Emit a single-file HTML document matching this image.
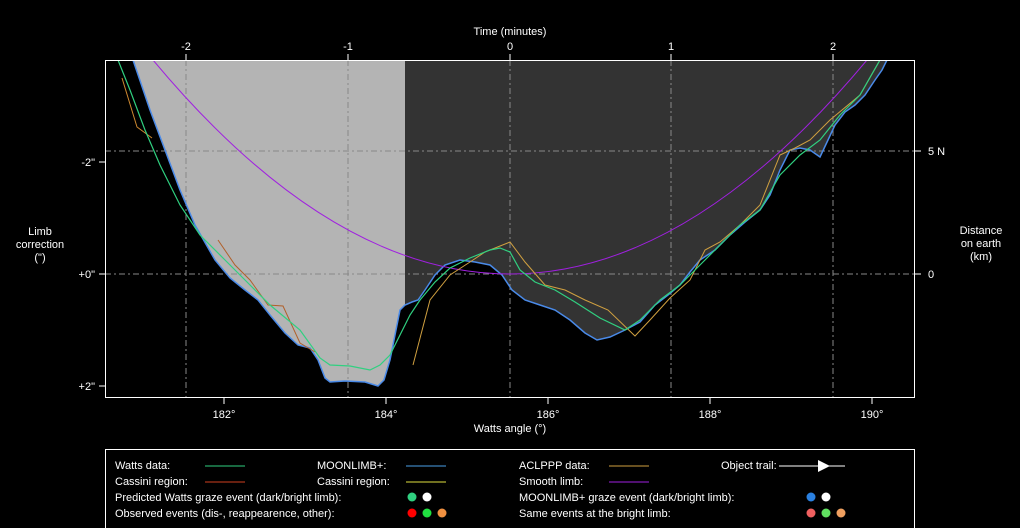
<!DOCTYPE html>
<html><head><meta charset="utf-8"><style>
html,body{margin:0;padding:0;background:#000;}
svg{display:block;font-family:"Liberation Sans",sans-serif;}
text{fill:#fff;font-size:11px;}
</style></head><body>
<svg width="1020" height="528" viewBox="0 0 1020 528" xmlns="http://www.w3.org/2000/svg">
<defs><clipPath id="c"><rect x="105" y="60" width="810" height="338"/></clipPath></defs>
<rect width="1020" height="528" fill="#000"/>
<g clip-path="url(#c)">
<rect x="105" y="60" width="300" height="338" fill="#b4b4b4"/>
<rect x="405" y="60" width="510" height="338" fill="#333"/>
<path id="limb" d="M133,60 L150,110 165,150 180,190 195,225 215,260 230,278 245,290 258,300 270,315 285,333 298,345 310,348 318,360 325,378 330,382 345,381 365,382 378,386 384,380 390,360 395,335 400,310 405,305 412,302 418,300 425,290 435,275 445,265 460,260 475,262 490,265 502,275 512,290 525,300 540,305 555,310 570,320 585,333 597,340 610,337 625,330 640,322 655,305 668,295 680,285 690,272 700,260 715,250 730,235 745,222 760,210 770,195 780,170 790,150 800,148 810,150 820,157 828,140 835,125 845,112 855,105 865,95 875,80 882,70 887,60 L915,60 915,400 105,400 105,60 Z" fill="#000"/>
<g stroke-width="1" fill="none" stroke-dasharray="6,3,2,3">
<line x1="186" y1="60" x2="186" y2="398" stroke="#888"/>
<line x1="348" y1="60" x2="348" y2="398" stroke="#888"/>
<line x1="510" y1="60" x2="510" y2="398" stroke="#888"/>
<line x1="671" y1="60" x2="671" y2="398" stroke="#888"/>
<line x1="833" y1="60" x2="833" y2="398" stroke="#888"/>
<line x1="105" y1="151" x2="915" y2="151" stroke="#888"/>
<line x1="105" y1="274" x2="915" y2="274" stroke="#888"/>
</g>
<polyline fill="none" stroke="#4a8ae8" stroke-width="1.5" points="133,60 150,110 165,150 180,190 195,225 215,260 230,278 245,290 258,300 270,315 285,333 298,345 310,348 318,360 325,378 330,382 345,381 365,382 378,386 384,380 390,360 395,335 400,310 405,305 412,302 418,300 425,290 435,275 445,265 460,260 475,262 490,265 502,275 512,290 525,300 540,305 555,310 570,320 585,333 597,340 610,337 625,330 640,322 655,305 668,295 680,285 690,272 700,260 715,250 730,235 745,222 760,210 770,195 780,170 790,150 800,148 810,150 820,157 828,140 835,125 845,112 855,105 865,95 875,80 882,70 887,60"/>
<path fill="none" stroke="#a020e0" stroke-width="1" d="M153,60 Q510,488 867,60"/>
<polyline fill="none" stroke="#d08a30" stroke-width="1" points="122,78 137,127 152,138"/>
<polyline fill="none" stroke="#b0602a" stroke-width="1" points="218,240 235,265 250,280 268,305 283,306 300,343 315,352"/>
<polyline fill="none" stroke="#d0a040" stroke-width="1" points="413,365 430,300 450,275 470,262 485,252 510,242 525,262 545,285 565,290 585,300 608,310 635,336 650,320 670,298 690,280 705,250 720,242 740,225 760,205 780,155 795,148 810,140 830,120 860,95 880,60"/>
<polyline fill="none" stroke="#30d080" stroke-width="1.2" points="118,60 130,90 145,130 160,165 180,205 200,235 225,260 250,285 270,305 300,330 320,358 330,365 350,366 370,370 380,365 390,355 400,335 410,315 420,300 435,282 450,268 470,258 490,250 500,248 510,252 520,270 535,282 555,290 575,302 600,318 625,330 640,320 660,300 680,285 700,265 720,245 740,225 760,210 780,175 800,155 820,140 840,115 860,95 880,60"/>
</g>
<rect x="105.5" y="60.5" width="809" height="337" fill="none" stroke="#fff"/>
<g stroke="#fff">
<line x1="186" y1="54" x2="186" y2="60"/><line x1="348" y1="54" x2="348" y2="60"/><line x1="510" y1="54" x2="510" y2="60"/><line x1="671" y1="54" x2="671" y2="60"/><line x1="833" y1="54" x2="833" y2="60"/>
<line x1="224" y1="398" x2="224" y2="404"/><line x1="386" y1="398" x2="386" y2="404"/><line x1="548" y1="398" x2="548" y2="404"/><line x1="710" y1="398" x2="710" y2="404"/><line x1="872" y1="398" x2="872" y2="404"/>
<line x1="99" y1="162" x2="105" y2="162"/><line x1="99" y1="274" x2="105" y2="274"/><line x1="99" y1="386" x2="105" y2="386"/>
<line x1="915" y1="151" x2="921" y2="151"/><line x1="915" y1="274" x2="921" y2="274"/>
</g>
<g text-anchor="middle">
<text x="510" y="35">Time (minutes)</text>
<text x="186" y="50">-2</text><text x="348" y="50">-1</text><text x="510" y="50">0</text><text x="671" y="50">1</text><text x="833" y="50">2</text>
<text x="224" y="418">182°</text><text x="386" y="418">184°</text><text x="548" y="418">186°</text><text x="710" y="418">188°</text><text x="872" y="418">190°</text>
<text x="510" y="432">Watts angle (°)</text>
<text x="40" y="235">Limb</text><text x="40" y="248">correction</text><text x="40" y="261">(")</text>
<text x="981" y="234">Distance</text><text x="981" y="247">on earth</text><text x="981" y="260">(km)</text>
</g>
<g text-anchor="end"><text x="95" y="166">-2"</text><text x="95" y="278">+0"</text><text x="95" y="390">+2"</text></g>
<text x="928" y="155">5 N</text><text x="928" y="278">0</text>
<rect x="105.5" y="449.5" width="809" height="90" fill="none" stroke="#fff"/>
<g>
<text x="115" y="469">Watts data:</text><line x1="205" y1="466" x2="245" y2="466" stroke="#30d080"/>
<text x="317" y="469">MOONLIMB+:</text><line x1="406" y1="466" x2="446" y2="466" stroke="#4aa0e8"/>
<text x="519" y="469">ACLPPP data:</text><line x1="609" y1="466" x2="649" y2="466" stroke="#d0a040"/>
<text x="721" y="469">Object trail:</text><line x1="779" y1="466" x2="845" y2="466" stroke="#fff"/><polygon points="818,460 830,466 818,472" fill="#fff"/>
<text x="115" y="485">Cassini region:</text><line x1="205" y1="482" x2="245" y2="482" stroke="#d04020"/>
<text x="317" y="485">Cassini region:</text><line x1="406" y1="482" x2="446" y2="482" stroke="#e0e040"/>
<text x="519" y="485">Smooth limb:</text><line x1="609" y1="482" x2="649" y2="482" stroke="#a020e0"/>
<text x="115" y="501">Predicted Watts graze event (dark/bright limb):</text>
<circle cx="412" cy="497" r="4.5" fill="#30d080"/><circle cx="427" cy="497" r="4.5" fill="#fff"/>
<text x="519" y="501">MOONLIMB+ graze event (dark/bright limb):</text>
<circle cx="811" cy="497" r="4.5" fill="#2a80e0"/><circle cx="826" cy="497" r="4.5" fill="#fff"/>
<text x="115" y="517">Observed events (dis-, reappearence, other):</text>
<circle cx="412" cy="513" r="4.5" fill="#f00"/><circle cx="427" cy="513" r="4.5" fill="#20e040"/><circle cx="442" cy="513" r="4.5" fill="#f09040"/>
<text x="519" y="517">Same events at the bright limb:</text>
<circle cx="811" cy="513" r="4.5" fill="#f06060"/><circle cx="826" cy="513" r="4.5" fill="#60e060"/><circle cx="841" cy="513" r="4.5" fill="#f0a060"/>
</g>
</svg>
</body></html>
